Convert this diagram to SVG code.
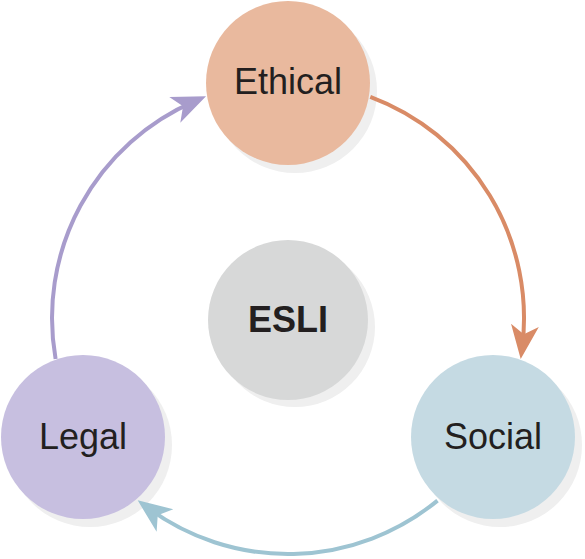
<svg xmlns="http://www.w3.org/2000/svg" width="585" height="559" viewBox="0 0 585 559">
<style>
.shadow{fill:#efefef}
.lbl{font-family:"Liberation Sans",Arial,sans-serif;font-size:36px;fill:#231f20;text-anchor:middle}
.arc{fill:none;stroke-width:4}
</style>
<defs>
<marker id="mE" markerUnits="userSpaceOnUse" viewBox="-36 -15 50 30" markerWidth="50" markerHeight="30" refX="0" refY="0" orient="auto">
<path d="M12,0 L-22,-14 L-13,0 L-22,14 Z" fill="#d98b66"/>
</marker>
<marker id="mL" markerUnits="userSpaceOnUse" viewBox="-36 -15 50 30" markerWidth="50" markerHeight="30" refX="0" refY="0" orient="auto">
<path d="M12,0 L-22,-14 L-13,0 L-22,14 Z" fill="#a89ccc"/>
</marker>
<marker id="mS" markerUnits="userSpaceOnUse" viewBox="-36 -15 50 30" markerWidth="50" markerHeight="30" refX="0" refY="0" orient="auto">
<path d="M12,0 L-22,-14 L-13,0 L-22,14 Z" fill="#9ec4d2"/>
</marker>
</defs>
<g id="node-esli">
<circle class="shadow" cx="295" cy="327" r="80"/>
<circle cx="288" cy="320" r="80" fill="#d7d8d8"/>
<text class="lbl" x="288" y="332" font-weight="bold">ESLI</text>
</g>
<g id="node-ethical">
<circle class="shadow" cx="295" cy="91" r="82"/>
<circle cx="288" cy="83" r="82" fill="#e9b99e"/>
<text class="lbl" x="288" y="94">Ethical</text>
</g>
<g id="node-social">
<circle class="shadow" cx="500" cy="445" r="82"/>
<circle cx="493" cy="437" r="82" fill="#c5dae3"/>
<text class="lbl" x="493" y="449">Social</text>
</g>
<g id="node-legal">
<circle class="shadow" cx="90" cy="445" r="82"/>
<circle cx="83" cy="437" r="82" fill="#c7bfe0"/>
<text class="lbl" x="83" y="449">Legal</text>
</g>
<g id="connectors">
<path class="arc" stroke="#d98b66" d="M370.3,96.8 A236,236 0 0 1 522.2,347.2" marker-end="url(#mE)"/>
<path class="arc" stroke="#9ec4d2" d="M437.5,500.6 A236,236 0 0 1 147.3,507.5" marker-end="url(#mS)"/>
<path class="arc" stroke="#a89ccc" d="M55.6,359 A236,236 0 0 1 195,101.1" marker-end="url(#mL)"/>
</g>
</svg>
